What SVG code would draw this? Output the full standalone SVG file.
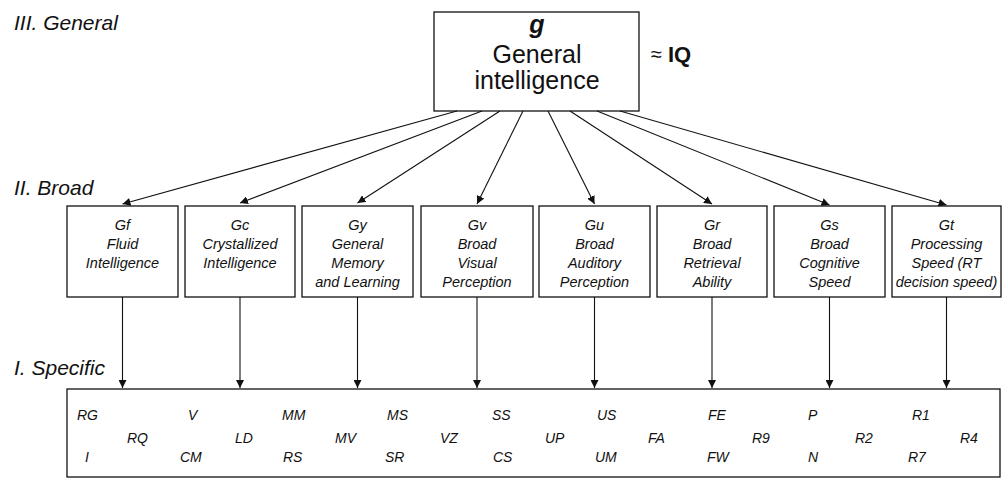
<svg xmlns="http://www.w3.org/2000/svg" width="1002" height="487" viewBox="0 0 1002 487">
<defs>
<marker id="ah" viewBox="0 0 10 10" refX="10" refY="5" markerWidth="8" markerHeight="8" markerUnits="userSpaceOnUse" orient="auto">
<path d="M0,0 L10,5 L0,10 z" fill="#111"/>
</marker>
<style>
text{font-family:"Liberation Sans",Arial,sans-serif;fill:#111}
.lvl{font-size:21px;font-style:italic}
.box{fill:#fff;stroke:#111;stroke-width:1.3}
.bt{font-size:14.5px;font-style:italic;text-anchor:middle}
.st{font-size:14px;font-style:italic}
.gt{font-size:25px;text-anchor:middle}
.con{stroke:#111;stroke-width:1.1;fill:none;marker-end:url(#ah)}
</style>
</defs>
<rect width="1002" height="487" fill="#fff"/>

<text class="lvl" x="14" y="30">III. General</text>
<text class="lvl" x="14" y="195">II. Broad</text>
<text class="lvl" x="14" y="375">I. Specific</text>

<g id="g-node">
<rect class="box" x="434" y="12" width="205" height="99"/>
<text class="gt" x="537" y="33" font-weight="bold" font-style="italic">g</text>
<text class="gt" x="537" y="63">General</text>
<text class="gt" x="537" y="89">intelligence</text>
</g>
<g id="iq">
<text x="651" y="61" font-size="20">≈</text>
<text x="668" y="62" font-size="22" font-weight="bold">IQ</text>
</g>

<g id="connectors">
<line class="con" x1="457" y1="111" x2="122.5" y2="204"/>
<line class="con" x1="482" y1="111" x2="240" y2="203"/>
<line class="con" x1="500" y1="111" x2="357.5" y2="203"/>
<line class="con" x1="523" y1="111" x2="477" y2="204"/>
<line class="con" x1="548" y1="111" x2="594.5" y2="204"/>
<line class="con" x1="570" y1="111" x2="712" y2="204"/>
<line class="con" x1="597" y1="111" x2="829.5" y2="205"/>
<line class="con" x1="620" y1="111" x2="946.5" y2="205"/>
<line class="con" x1="122.5" y1="297" x2="122.5" y2="388"/>
<line class="con" x1="240" y1="297" x2="240" y2="388"/>
<line class="con" x1="357.5" y1="297" x2="357.5" y2="388"/>
<line class="con" x1="477" y1="297" x2="477" y2="388"/>
<line class="con" x1="594.5" y1="297" x2="594.5" y2="388"/>
<line class="con" x1="712" y1="297" x2="712" y2="388"/>
<line class="con" x1="829.5" y1="297" x2="829.5" y2="388"/>
<line class="con" x1="946.5" y1="297" x2="946.5" y2="388"/>
</g>

<g id="Gf">
<rect class="box" x="67" y="206" width="111" height="91"/>
<text class="bt" x="122.5" y="230">Gf</text>
<text class="bt" x="122.5" y="249">Fluid</text>
<text class="bt" x="122.5" y="268">Intelligence</text>
</g>
<g id="Gc">
<rect class="box" x="185" y="206" width="110" height="91"/>
<text class="bt" x="240" y="230">Gc</text>
<text class="bt" x="240" y="249">Crystallized</text>
<text class="bt" x="240" y="268">Intelligence</text>
</g>
<g id="Gy">
<rect class="box" x="302" y="206" width="111" height="91"/>
<text class="bt" x="357.5" y="230">Gy</text>
<text class="bt" x="357.5" y="249">General</text>
<text class="bt" x="357.5" y="268">Memory</text>
<text class="bt" x="357.5" y="287">and Learning</text>
</g>
<g id="Gv">
<rect class="box" x="421" y="206" width="112" height="91"/>
<text class="bt" x="477" y="230">Gv</text>
<text class="bt" x="477" y="249">Broad</text>
<text class="bt" x="477" y="268">Visual</text>
<text class="bt" x="477" y="287">Perception</text>
</g>
<g id="Gu">
<rect class="box" x="539" y="206" width="111" height="91"/>
<text class="bt" x="594.5" y="230">Gu</text>
<text class="bt" x="594.5" y="249">Broad</text>
<text class="bt" x="594.5" y="268">Auditory</text>
<text class="bt" x="594.5" y="287">Perception</text>
</g>
<g id="Gr">
<rect class="box" x="657" y="206" width="110" height="91"/>
<text class="bt" x="712" y="230">Gr</text>
<text class="bt" x="712" y="249">Broad</text>
<text class="bt" x="712" y="268">Retrieval</text>
<text class="bt" x="712" y="287">Ability</text>
</g>
<g id="Gs">
<rect class="box" x="774" y="206" width="111" height="91"/>
<text class="bt" x="829.5" y="230">Gs</text>
<text class="bt" x="829.5" y="249">Broad</text>
<text class="bt" x="829.5" y="268">Cognitive</text>
<text class="bt" x="829.5" y="287">Speed</text>
</g>
<g id="Gt">
<rect class="box" x="892" y="206" width="109" height="91"/>
<text class="bt" x="946.5" y="230">Gt</text>
<text class="bt" x="946.5" y="249">Processing</text>
<text class="bt" x="946.5" y="268">Speed (RT</text>
<text class="bt" x="946.5" y="287">decision speed)</text>
</g>

<g id="specific">
<rect class="box" x="67" y="389" width="933" height="88"/>
<text class="st" x="77" y="420">RG</text>
<text class="st" x="188" y="420">V</text>
<text class="st" x="282" y="420">MM</text>
<text class="st" x="387" y="420">MS</text>
<text class="st" x="492" y="420">SS</text>
<text class="st" x="597" y="420">US</text>
<text class="st" x="708" y="420">FE</text>
<text class="st" x="808" y="420">P</text>
<text class="st" x="912" y="420">R1</text>
<text class="st" x="127" y="443">RQ</text>
<text class="st" x="235" y="443">LD</text>
<text class="st" x="335" y="443">MV</text>
<text class="st" x="440" y="443">VZ</text>
<text class="st" x="545" y="443">UP</text>
<text class="st" x="648" y="443">FA</text>
<text class="st" x="752" y="443">R9</text>
<text class="st" x="855" y="443">R2</text>
<text class="st" x="960" y="443">R4</text>
<text class="st" x="85" y="462">I</text>
<text class="st" x="180" y="462">CM</text>
<text class="st" x="283" y="462">RS</text>
<text class="st" x="385" y="462">SR</text>
<text class="st" x="493" y="462">CS</text>
<text class="st" x="595" y="462">UM</text>
<text class="st" x="707" y="462">FW</text>
<text class="st" x="808" y="462">N</text>
<text class="st" x="908" y="462">R7</text>
</g>
</svg>
